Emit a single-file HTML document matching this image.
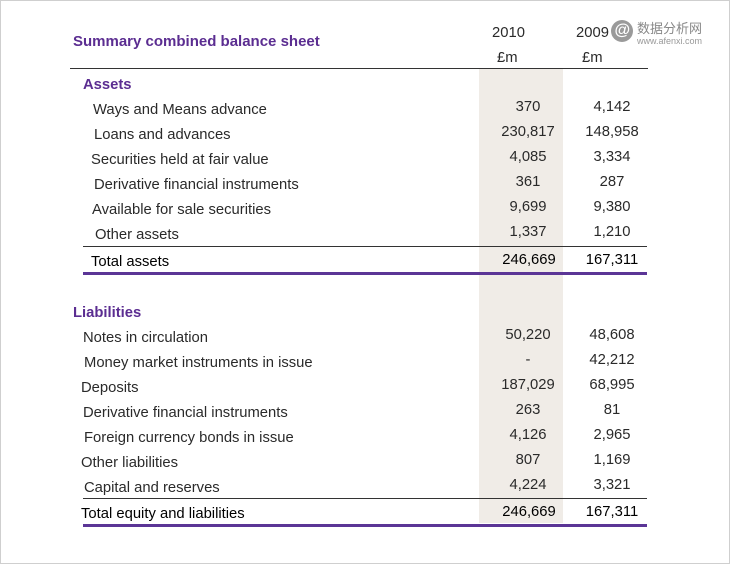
<!DOCTYPE html>
<html><head><meta charset="utf-8"><style>
body{margin:0;width:730px;height:564px;background:#fff;position:relative;overflow:hidden;font-family:"Liberation Sans",Arial,sans-serif;}
.frame{position:absolute;left:0;top:0;width:728px;height:562px;border:1px solid #cfcfcf;}
.t{position:absolute;font-size:14.8px;color:#2a2a2a;white-space:nowrap;line-height:16px;margin-top:2px;}
.a{text-align:center;width:100px;left:478px;}
.b{text-align:center;width:100px;left:562px;}
.p{color:#5b2d91;font-weight:bold;}
.shade{position:absolute;left:479px;top:69px;width:84px;height:454px;background:#f0ece7;}
.hl{position:absolute;height:1px;background:#333;}
.pl{position:absolute;height:3px;background:#5b3596;}
</style></head><body>
<div class="frame"></div>
<div class="shade"></div>
<div class="t p" style="left:73px;top:32px;font-size:15px">Summary combined balance sheet</div>
<div class="t" style="left:492px;top:23px">2010</div>
<div class="t" style="left:576px;top:23px">2009</div>
<div class="t" style="left:497px;top:48px">£m</div>
<div class="t" style="left:582px;top:48px">£m</div>
<div style="position:absolute;left:611px;top:20px;width:22px;height:22px;border-radius:50%;background:#9a9a9a;color:#fff;font-size:16px;line-height:22px;text-align:center;font-style:italic;font-weight:bold">@</div>
<div class="t" style="left:637px;top:18px;color:#888;font-size:13px;font-family:'Noto Sans CJK SC',sans-serif">数据分析网</div>
<div class="t" style="left:637px;top:34px;color:#999;font-size:9px;line-height:10px">www.afenxi.com</div>
<div class="hl" style="left:70px;top:68px;width:578px"></div>

<div class="t p" style="left:83px;top:75px">Assets</div>
<div class="t" style="left:93px;top:100px">Ways and Means advance</div>
<div class="t" style="left:94px;top:125px">Loans and advances</div>
<div class="t" style="left:91px;top:150px">Securities held at fair value</div>
<div class="t" style="left:94px;top:175px">Derivative financial instruments</div>
<div class="t" style="left:92px;top:200px">Available for sale securities</div>
<div class="t" style="left:95px;top:225px">Other assets</div>
<div class="t a" style="top:97px">370</div><div class="t b" style="top:97px">4,142</div>
<div class="t a" style="top:122px">230,817</div><div class="t b" style="top:122px">148,958</div>
<div class="t a" style="top:147px">4,085</div><div class="t b" style="top:147px">3,334</div>
<div class="t a" style="top:172px">361</div><div class="t b" style="top:172px">287</div>
<div class="t a" style="top:197px">9,699</div><div class="t b" style="top:197px">9,380</div>
<div class="t a" style="top:222px">1,337</div><div class="t b" style="top:222px">1,210</div>
<div class="hl" style="left:83px;top:246px;width:564px"></div>
<div class="t" style="left:91px;top:252px;color:#000">Total assets</div>
<div class="t a" style="top:250px;color:#000;left:479px">246,669</div><div class="t b" style="top:250px;color:#000">167,311</div>
<div class="pl" style="left:83px;top:272px;width:564px"></div>

<div class="t p" style="left:73px;top:303px">Liabilities</div>
<div class="t" style="left:83px;top:328px">Notes in circulation</div>
<div class="t" style="left:84px;top:353px">Money market instruments in issue</div>
<div class="t" style="left:81px;top:378px">Deposits</div>
<div class="t" style="left:83px;top:403px">Derivative financial instruments</div>
<div class="t" style="left:84px;top:428px">Foreign currency bonds in issue</div>
<div class="t" style="left:81px;top:453px">Other liabilities</div>
<div class="t" style="left:84px;top:478px">Capital and reserves</div>
<div class="t a" style="top:325px">50,220</div><div class="t b" style="top:325px">48,608</div>
<div class="t a" style="top:350px">-</div><div class="t b" style="top:350px">42,212</div>
<div class="t a" style="top:375px">187,029</div><div class="t b" style="top:375px">68,995</div>
<div class="t a" style="top:400px">263</div><div class="t b" style="top:400px">81</div>
<div class="t a" style="top:425px">4,126</div><div class="t b" style="top:425px">2,965</div>
<div class="t a" style="top:450px">807</div><div class="t b" style="top:450px">1,169</div>
<div class="t a" style="top:475px">4,224</div><div class="t b" style="top:475px">3,321</div>
<div class="hl" style="left:83px;top:498px;width:564px"></div>
<div class="t" style="left:81px;top:504px;color:#000">Total equity and liabilities</div>
<div class="t a" style="top:502px;color:#000;left:479px">246,669</div><div class="t b" style="top:502px;color:#000">167,311</div>
<div class="pl" style="left:83px;top:524px;width:564px"></div>
</body></html>
